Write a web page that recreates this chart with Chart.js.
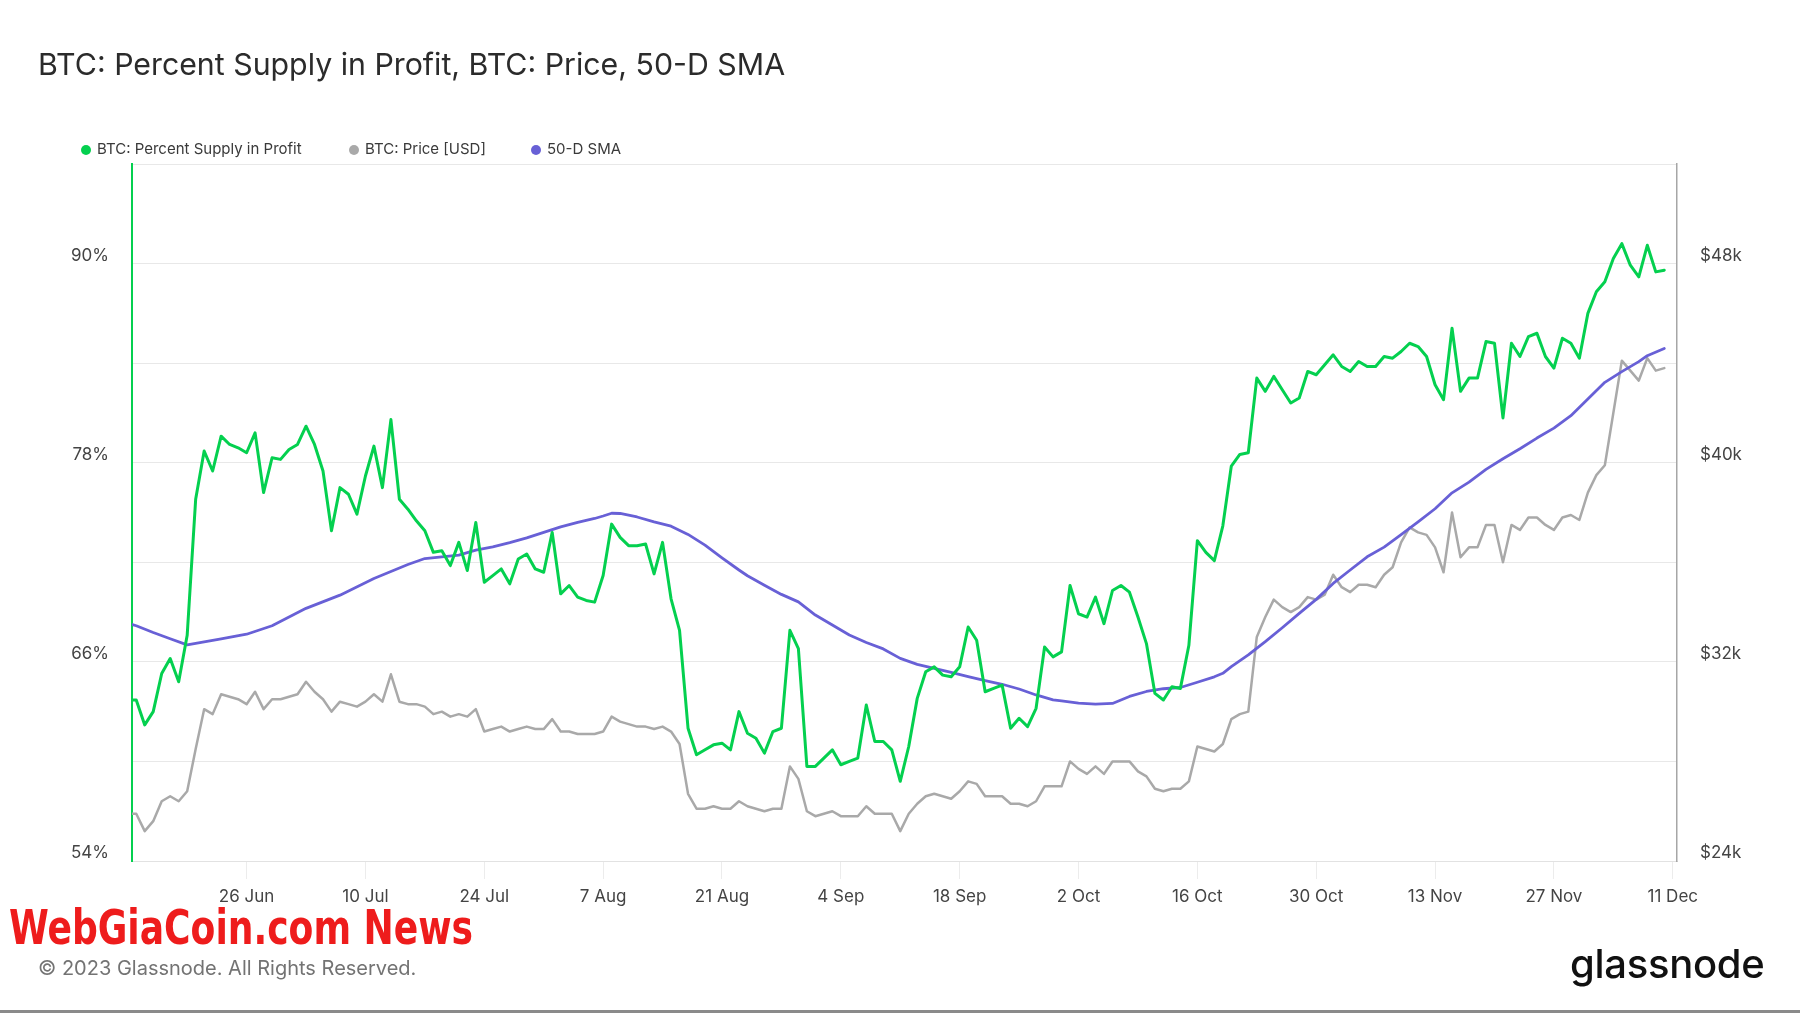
<!DOCTYPE html>
<html>
<head>
<meta charset="utf-8">
<title>BTC: Percent Supply in Profit, BTC: Price, 50-D SMA</title>
<script src="https://cdn.jsdelivr.net/npm/chart.js@4.4.0/dist/chart.umd.min.js"></script>
<style>
    html, body { margin: 0; padding: 0; background: #fff; }
    #wrap { position: relative; width: 1800px; height: 1013px; overflow: hidden; font-family: Inter, "Noto Sans", sans-serif; }
    #chart { position: absolute; left: 0; top: 0; }
    .title { position: absolute; left: 38px; top: 44px; font-size: 30.3px; line-height: 40px; color: #2b2b2b; white-space: nowrap; }
    .legend-item { position: absolute; top: 139px; height: 20px; line-height: 20px; font-size: 15px; color: #3a3a3a; white-space: nowrap; }
    .legend-item i { display: inline-block; width: 10px; height: 10px; border-radius: 50%; margin-right: 6px; vertical-align: -1px; }
    .watermark { position: absolute; left: 9px; top: 902px; font-family: "Liberation Sans Narrow", "DejaVu Sans Condensed", sans-serif; font-weight: bold; font-size: 48px; line-height: 50px; color: #ee1c1c; white-space: nowrap; transform-origin: left center; }
    .copyright { position: absolute; left: 38px; top: 955px; font-size: 20px; line-height: 26px; color: #737373; white-space: nowrap; }
    .logo { position: absolute; left: 1570px; top: 939px; font-size: 40px; line-height: 50px; font-weight: 500; color: #111; letter-spacing: -0.3px; white-space: nowrap; }
    .bottom-line { position: absolute; left: 0; top: 1010px; width: 1800px; height: 3px; background: #8a8a8a; }
</style>
</head>
<body>
<div id="wrap">
    <canvas id="chart" width="1800" height="1013"></canvas>
    <div class="title">BTC: Percent Supply in Profit, BTC: Price, 50-D SMA</div>
    <div class="legend-item" style="left:81px"><i style="background:#04d04f"></i>BTC: Percent Supply in Profit</div>
    <div class="legend-item" style="left:349px"><i style="background:#a9a9a9"></i>BTC: Price [USD]</div>
    <div class="legend-item" style="left:531px"><i style="background:#6860d6"></i>50-D SMA</div>
    <div class="watermark" id="watermark">WebGiaCoin.com News</div>
    <div class="copyright">© 2023 Glassnode. All Rights Reserved.</div>
    <div class="logo">glassnode</div>
    <div class="bottom-line"></div>
</div>
<script>
// day 0 = 13 Jun 2023, one value per day, series start at day -1
const firstDay = -1;

const tickDays = [13, 27, 41, 55, 69, 83, 97, 111, 125, 139, 153, 167, 181];
const tickLabels = ["26 Jun", "10 Jul", "24 Jul", "7 Aug", "21 Aug", "4 Sep", "18 Sep", "2 Oct", "16 Oct", "30 Oct", "13 Nov", "27 Nov", "11 Dec"];

const pctTicks = [54, 66, 78, 90];
const priceTicks = [24, 32, 40, 48];

// BTC: Percent Supply in Profit (%)
const supplyInProfit = [
    63.7,
    63.7, 62.2, 63.0, 65.3, 66.2, 64.8, 67.6, 75.8, 78.7, 77.5,
    79.6, 79.1, 78.9, 78.6, 79.8, 76.2, 78.3, 78.2, 78.8, 79.1,
    80.2, 79.1, 77.5, 73.9, 76.5, 76.1, 74.9, 77.2, 79.0, 76.5,
    80.6, 75.8, 75.2, 74.5, 73.9, 72.6, 72.7, 71.8, 73.2, 71.5,
    74.4, 70.8, 71.2, 71.6, 70.7, 72.2, 72.5, 71.6, 71.4, 73.8,
    70.1, 70.6, 69.9, 69.7, 69.6, 71.2, 74.3, 73.5, 73.0, 73.0,
    73.1, 71.3, 73.2, 69.8, 67.9, 62.0, 60.4, 60.7, 61.0, 61.1,
    60.7, 63.0, 61.7, 61.4, 60.5, 61.8, 62.0, 67.9, 66.8, 59.7,
    59.7, 60.2, 60.7, 59.8, 60.0, 60.2, 63.4, 61.2, 61.2, 60.7,
    58.8, 60.9, 63.8, 65.4, 65.7, 65.2, 65.1, 65.7, 68.1, 67.3,
    64.2, 64.4, 64.6, 62.0, 62.6, 62.1, 63.2, 66.9, 66.3, 66.6,
    70.6, 68.9, 68.7, 69.9, 68.3, 70.3, 70.6, 70.2, 68.7, 67.1,
    64.1, 63.7, 64.5, 64.4, 67.0, 73.3, 72.6, 72.1, 74.2, 77.8,
    78.5, 78.6, 83.1, 82.3, 83.2, 82.4, 81.6, 81.9, 83.5, 83.3,
    83.9, 84.5, 83.8, 83.5, 84.1, 83.8, 83.8, 84.4, 84.3, 84.7,
    85.2, 85.0, 84.4, 82.7, 81.8, 86.1, 82.3, 83.1, 83.1, 85.3,
    85.2, 80.7, 85.2, 84.4, 85.6, 85.8, 84.4, 83.7, 85.5, 85.2,
    84.3, 87.0, 88.3, 88.9, 90.3, 91.2, 89.9, 89.2, 91.1, 89.5,
    89.6
];

// BTC: Price [USD], in thousands
const priceUsd = [
    25.9,
    25.9, 25.2, 25.6, 26.4, 26.6, 26.4, 26.8, 28.5, 30.1, 29.9,
    30.7, 30.6, 30.5, 30.3, 30.8, 30.1, 30.5, 30.5, 30.6, 30.7,
    31.2, 30.8, 30.5, 30.0, 30.4, 30.3, 30.2, 30.4, 30.7, 30.4,
    31.5, 30.4, 30.3, 30.3, 30.2, 29.9, 30.0, 29.8, 29.9, 29.8,
    30.1, 29.2, 29.3, 29.4, 29.2, 29.3, 29.4, 29.3, 29.3, 29.7,
    29.2, 29.2, 29.1, 29.1, 29.1, 29.2, 29.8, 29.6, 29.5, 29.4,
    29.4, 29.3, 29.4, 29.2, 28.7, 26.7, 26.1, 26.1, 26.2, 26.1,
    26.1, 26.4, 26.2, 26.1, 26.0, 26.1, 26.1, 27.8, 27.3, 26.0,
    25.8, 25.9, 26.0, 25.8, 25.8, 25.8, 26.2, 25.9, 25.9, 25.9,
    25.2, 25.9, 26.3, 26.6, 26.7, 26.6, 26.5, 26.8, 27.2, 27.1,
    26.6, 26.6, 26.6, 26.3, 26.3, 26.2, 26.4, 27.0, 27.0, 27.0,
    28.0, 27.7, 27.5, 27.8, 27.5, 28.0, 28.0, 28.0, 27.6, 27.4,
    26.9, 26.8, 26.9, 26.9, 27.2, 28.6, 28.5, 28.4, 28.7, 29.7,
    29.9, 30.0, 33.0, 33.8, 34.5, 34.2, 34.0, 34.2, 34.6, 34.5,
    34.7, 35.5, 35.0, 34.8, 35.1, 35.1, 35.0, 35.5, 35.8, 36.8,
    37.4, 37.2, 37.1, 36.6, 35.6, 38.0, 36.2, 36.6, 36.6, 37.5,
    37.5, 36.0, 37.5, 37.3, 37.8, 37.8, 37.5, 37.3, 37.8, 37.9,
    37.7, 38.8, 39.5, 39.9, 42.0, 44.1, 43.7, 43.3, 44.2, 43.7,
    43.8
];

// 50-D SMA of price, in thousands (read every couple of days)
const smaDays = [
    -1, 0, 2, 4, 6, 10, 13, 16, 20, 24, 28, 32, 34, 36, 38, 40, 42, 44, 46, 48,
    50, 52, 54, 55, 56, 57, 59, 61, 63, 65, 67, 69, 71, 72, 74, 76, 78, 80, 82, 84,
    86, 88, 90, 92, 94, 96, 98, 100, 102, 104, 106, 108, 109, 111, 113, 115, 117, 119, 121, 123,
    125, 127, 128, 129, 131, 133, 135, 137, 139, 141, 143, 145, 147, 149, 151, 153, 155, 157, 159, 161,
    163, 165, 167, 169, 171, 173, 175, 177, 178, 180
];
const smaValues = [
    33.55, 33.45, 33.18, 32.93, 32.68, 32.92, 33.11, 33.45, 34.15, 34.68, 35.35, 35.91, 36.15, 36.22, 36.29, 36.49, 36.62, 36.79, 36.98, 37.20,
    37.42, 37.60, 37.76, 37.86, 37.97, 37.96, 37.82, 37.62, 37.45, 37.12, 36.69, 36.18, 35.69, 35.46, 35.08, 34.71, 34.41, 33.88, 33.48, 33.08,
    32.78, 32.52, 32.14, 31.90, 31.74, 31.58, 31.41, 31.25, 31.10, 30.91, 30.67, 30.47, 30.43, 30.34, 30.30, 30.33, 30.61, 30.81, 30.92, 30.97,
    31.18, 31.40, 31.54, 31.81, 32.28, 32.81, 33.37, 33.95, 34.51, 35.15, 35.69, 36.22, 36.61, 37.11, 37.62, 38.15, 38.79, 39.22, 39.73, 40.16,
    40.56, 40.99, 41.39, 41.89, 42.56, 43.23, 43.66, 44.06, 44.30, 44.59
];

const GREEN = "#04d04f";
const GREY = "#a9a9a9";
const PURPLE = "#6860d6";
const tickFont = { family: "Inter, 'Noto Sans', sans-serif", size: 17 };

const daily = (values) => values.map((v, i) => ({ x: firstDay + i, y: v }));

new Chart(document.getElementById("chart"), {
    type: "line",
    data: {
        datasets: [
            {
                label: "BTC: Percent Supply in Profit",
                data: daily(supplyInProfit),
                yAxisID: "yPct",
                borderColor: GREEN,
                borderWidth: 3,
                order: 0
            },
            {
                label: "BTC: Price [USD]",
                data: daily(priceUsd),
                yAxisID: "yPrice",
                borderColor: GREY,
                borderWidth: 2.5,
                order: 2
            },
            {
                label: "50-D SMA",
                data: smaDays.map((d, i) => ({ x: d, y: smaValues[i] })),
                yAxisID: "yPrice",
                borderColor: PURPLE,
                borderWidth: 2.8,
                order: 1
            }
        ]
    },
    options: {
        responsive: false,
        animation: false,
        devicePixelRatio: 1,
        events: [],
        elements: {
            point: { radius: 0 },
            line: { tension: 0, borderJoinStyle: "round", borderCapStyle: "round" }
        },
        layout: { padding: { left: 0, right: 0, top: 164, bottom: 92 } },
        plugins: {
            legend: { display: false },
            title: { display: false },
            tooltip: { enabled: false }
        },
        scales: {
            x: {
                type: "linear",
                min: -0.5,
                max: 181.5,
                afterFit: (scale) => { scale.height = 60; },
                afterBuildTicks: (scale) => { scale.ticks = tickDays.map((d) => ({ value: d })); },
                grid: { drawOnChartArea: false, drawTicks: true, tickLength: 18, color: "#ececec" },
                border: { color: "#e2e2e2", width: 1 },
                ticks: {
                    autoSkip: false,
                    maxRotation: 0,
                    padding: 8,
                    color: "#444",
                    font: tickFont,
                    callback: (value) => tickLabels[tickDays.indexOf(value)]
                }
            },
            yPct: {
                type: "linear",
                position: "left",
                min: 54,
                max: 96,
                afterFit: (scale) => { scale.width = 132; },
                grid: { color: "#e8e8e8", drawTicks: false },
                border: { color: GREEN, width: 2 },
                ticks: {
                    stepSize: 6,
                    padding: 23,
                    labelOffset: -8,
                    color: "#444",
                    font: tickFont,
                    callback: (value) => pctTicks.includes(value) ? value + "%" : ""
                }
            },
            yPrice: {
                type: "linear",
                position: "right",
                min: 24,
                max: 52,
                afterFit: (scale) => { scale.width = 123; },
                grid: { drawOnChartArea: false, drawTicks: false },
                border: { color: "#a6a6a6", width: 1.5 },
                ticks: {
                    stepSize: 4,
                    padding: 23,
                    labelOffset: -8,
                    color: "#444",
                    font: tickFont,
                    callback: (value) => priceTicks.includes(value) ? "$" + value + "k" : ""
                }
            }
        }
    }
});

// stretch the condensed watermark to the width it has in the screenshot
const wm = document.getElementById("watermark");
wm.style.transform = "scaleX(" + (464 / wm.offsetWidth) + ")";
</script>
</body>
</html>
